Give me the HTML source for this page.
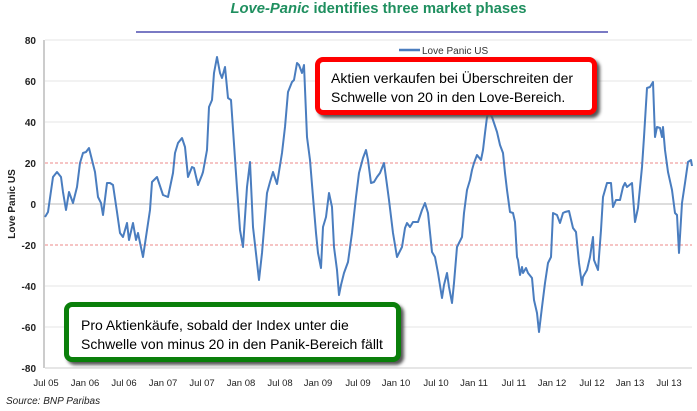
<!DOCTYPE html>
<html><head><meta charset="utf-8"><style>
body{margin:0;background:#fff;width:697px;height:411px;overflow:hidden;position:relative;font-family:"Liberation Sans",sans-serif}
.title{position:absolute;left:30px;width:697px;top:1px;text-align:center;font-weight:bold;font-size:14.8px;color:#1f8f5f}
.box{position:absolute;background:#fff;border-radius:8px;box-shadow:3px 3px 3px #555;font-size:14px;line-height:19px;color:#000}
</style></head><body>
<div class="title"><i>Love-Panic</i> identifies three market phases</div>
<svg width="697" height="411" style="position:absolute;left:0;top:0">
<line x1="136" y1="32" x2="608" y2="32" stroke="#2a2aa0" stroke-width="1.2"/>
<g stroke="#e4e4e4" stroke-width="1">
<line x1="45" y1="40" x2="692" y2="40"/><line x1="45" y1="81" x2="692" y2="81"/><line x1="45" y1="122" x2="692" y2="122"/><line x1="45" y1="286" x2="692" y2="286"/><line x1="45" y1="327" x2="692" y2="327"/></g>
<line x1="45" y1="163" x2="692" y2="163" stroke="#e88" stroke-dasharray="3,2"/>
<line x1="45" y1="245" x2="692" y2="245" stroke="#e88" stroke-dasharray="3,2"/>
<line x1="45" y1="204" x2="692" y2="204" stroke="#bbb"/>
<line x1="45" y1="368" x2="692" y2="368" stroke="#ccc"/>
<line x1="44" y1="40" x2="44" y2="368" stroke="#999"/>
<g font-size="10" font-weight="bold" text-anchor="end" fill="#222">
<text x="36" y="44">80</text><text x="36" y="85">60</text><text x="36" y="126">40</text><text x="36" y="167">20</text><text x="36" y="208">0</text><text x="36" y="249">-20</text><text x="36" y="290">-40</text><text x="36" y="331">-60</text><text x="36" y="372">-80</text></g>
<text transform="translate(15,204) rotate(-90)" font-size="10" font-weight="bold" text-anchor="middle" fill="#222">Love Panic US</text>
<g font-size="9.5" text-anchor="middle" fill="#222">
<text x="46" y="386">Jul 05</text><text x="85" y="386">Jan 06</text><text x="124" y="386">Jul 06</text><text x="163" y="386">Jan 07</text><text x="202" y="386">Jul 07</text><text x="241" y="386">Jan 08</text><text x="280" y="386">Jul 08</text><text x="318" y="386">Jan 09</text><text x="358" y="386">Jul 09</text><text x="396" y="386">Jan 10</text><text x="436" y="386">Jul 10</text><text x="474" y="386">Jan 11</text><text x="514" y="386">Jul 11</text><text x="552" y="386">Jan 12</text><text x="592" y="386">Jul 12</text><text x="630" y="386">Jan 13</text><text x="669" y="386">Jul 13</text></g>
<text x="6" y="404" font-size="10" font-style="italic" fill="#222">Source: BNP Paribas</text>
<line x1="399" y1="50" x2="420" y2="50" stroke="#4a7dbf" stroke-width="2.5"/>
<text x="422" y="54" font-size="10" fill="#333">Love Panic US</text>
<polyline fill="none" stroke="#4a7dbf" stroke-width="2" stroke-linejoin="round" points="45,217 48,212 53,177 57,172 61,177 63,192 66,210 69,192 73,203 77,187 80,163 83,153 86,152 89,148 92,160 95,172 98,197 101,203 103,215 107,183 110,183 113,185 117,212 120,233 123,237 127,223 129,240 133,223 136,240 138,233 143,257 150,210 152,182 157,177 163,195 168,197 173,173 175,153 178,143 182,138 185,147 188,177 192,167 194,168 198,185 202,175 203,172 207,150 209,107 212,100 214,73 217,57 220,73 222,78 225,67 228,98 231,100 237,188 240,230 243,247 247,187 250,162 253,227 259,280 262,253 267,193 270,182 273,172 277,184 282,153 285,127 288,92 292,82 294,80 297,63 299,65 302,73 304,65 307,137 310,160 313,197 316,233 318,253 321,268 323,227 326,217 329,193 332,207 334,247 337,270 339,295 341,285 344,273 348,262 352,233 356,197 359,173 363,158 366,150 368,160 371,183 374,182 377,177 380,173 384,163 387,185 389,200 393,233 397,257 402,247 405,228 407,223 410,227 413,222 418,222 422,210 425,203 428,213 432,252 435,257 438,273 442,298 444,285 447,273 449,287 452,303 454,283 457,247 462,237 464,213 467,190 470,180 472,170 474,163 477,155 481,160 483,150 485,133 487,117 489,112 492,117 494,123 497,132 500,145 503,153 505,173 507,190 510,212 513,213 515,222 517,257 518,260 520,275 522,267 523,273 526,268 528,273 532,278 534,300 537,313 539,332 542,307 545,283 548,263 551,257 553,213 557,215 560,223 563,213 565,212 569,211 573,228 576,232 579,263 582,285 583,277 587,270 590,257 593,237 594,260 598,270 601,230 603,197 605,190 607,183 611,183 613,207 616,200 620,200 623,187 625,183 627,187 632,183 635,222 638,208 642,167 644,137 647,88 650,87 653,82 655,137 657,127 660,128 662,137 663,127 665,150 668,172 672,190 675,213 677,215 679,253 682,203 685,183 688,162 691,160 692,166"/>
</svg>
<div class="box" style="left:315px;top:57px;width:272px;height:48px;border:5px solid #f00;">
<div style="padding:7px 0 0 11px">Aktien verkaufen bei Überschreiten der<br>Schwelle von 20 in den Love-Bereich.</div></div>
<div class="box" style="left:64px;top:302px;width:327px;height:50px;border:5px solid #0a7f0a;">
<div style="padding:9px 0 0 12px">Pro Aktienkäufe, sobald der Index unter die<br>Schwelle von minus 20 in den Panik-Bereich fällt</div></div>
</body></html>
